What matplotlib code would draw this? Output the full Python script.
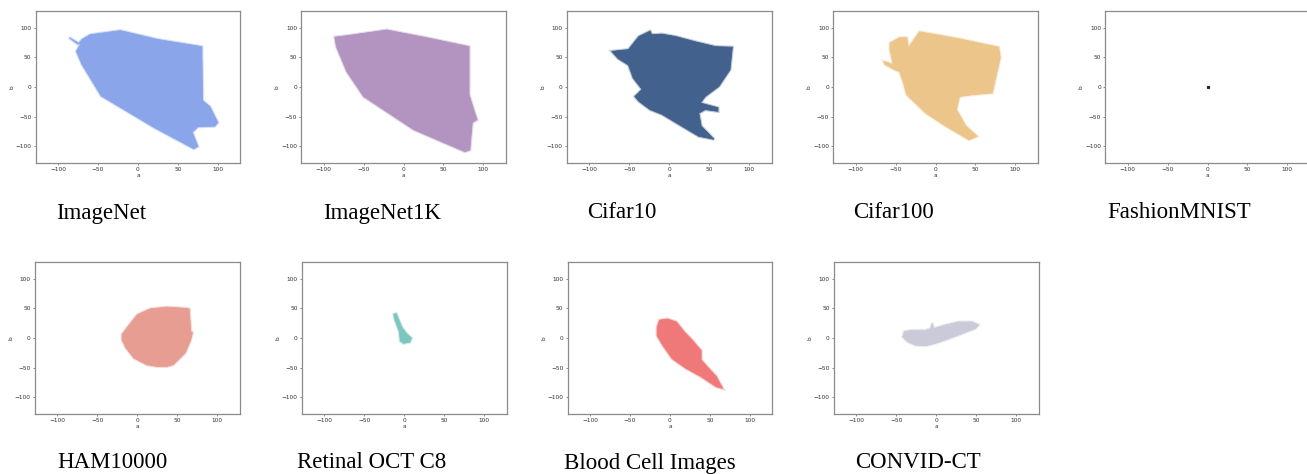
import matplotlib
matplotlib.use("Agg")
import matplotlib.pyplot as plt

# ---- data: outlines of the a/b point clouds (Lab colour space) ----
titles = ["ImageNet", "ImageNet1K", "Cifar10", "Cifar100", "FashionMNIST",
          "HAM10000", "Retinal OCT C8", "Blood Cell Images", "CONVID-CT"]

imagenet_a = [-86, -75, -70, -60, -22, 25, 80, 81, 90, 100, 96, 75, 68, 75, 70, 20, -46, -70, -77, -72]
imagenet_b = [83, 72, 80, 88, 95, 80, 68, -23, -33, -60, -66, -67, -76, -100, -104, -68, -15, 38, 60, 72]

imagenet1k_a = [-86, -73, -21, 29, 82, 82, 88, 92, 86, 83, 77, 13, -50, -71, -84]
imagenet1k_b = [84, 86, 96, 83, 68, -13, -39, -55, -60, -106, -109, -72, -16, 26, 68]

cifar10_a = [-72, -51, -38, -24, -22, -9, 8, 33, 58, 79, 76, 62, 45, 39, 61, 61, 45, 37, 40, 56,
             37, 12, -9, -24, -38, -43, -34, -45, -51, -64]
cifar10_b = [60, 63, 85, 94, 88, 89, 85, 76, 68, 67, 29, 1, -16, -27, -35, -41, -38, -44, -66, -88,
             -83, -63, -46, -38, -24, -16, -4, 15, 37, 48]

cifar100_a = [-57, -45, -36, -34, -20, 30, 79, 81, 77, 71, 46, 30, 26, 38, 52, 42, 13, -12, -36,
              -40, -45, -51, -63, -65, -53, -57]
cifar100_b = [74, 83, 83, 66, 93, 81, 67, 49, 26, -10, -13, -16, -38, -66, -83, -89, -66, -44, -13,
              7, 26, 29, 38, 43, 38, 63]

fashion_a = [0]
fashion_b = [0]

ham_a = [-19, -10, 0, 16, 37, 60, 65, 67, 69, 67, 60, 45, 37, 25, 12, -4, -14, -19]
ham_b = [6, 22, 39, 49, 52, 50, 49, 11, 9, -3, -25, -45, -48, -48, -45, -34, -17, -3]

retinal_a = [-13, -10, -3, 3, 9, 7, -1, -5, -6, -12]
retinal_b = [40, 41, 18, 7, 0, -7, -9, -5, 10, 32]

blood_a = [-16, -13, -3, 8, 18, 26, 35, 39, 39, 47, 58, 66, 58, 39, 20, 3, -9, -16]
blood_b = [18, 30, 32, 27, 10, -1, -15, -21, -37, -49, -65, -85, -82, -65, -51, -35, -12, 4]

covid_a = [-40, -30, -13, -7, -5, -3, 12, 28, 45, 53, 49, 28, 12, -1, -13, -26, -36, -42]
covid_b = [11, 13, 13, 16, 25, 16, 22, 27, 27, 22, 16, 5, -3, -9, -13, -12, -6, 2]

outlines_a = [imagenet_a, imagenet1k_a, cifar10_a, cifar100_a, fashion_a,
              ham_a, retinal_a, blood_a, covid_a]
outlines_b = [imagenet_b, imagenet1k_b, cifar10_b, cifar100_b, fashion_b,
              ham_b, retinal_b, blood_b, covid_b]

colors = ["#8aa5e9", "#b394c0", "#42618c", "#ecc58b", "#222222",
          "#e89d93", "#7cc6c0", "#ef7878", "#cacad9"]

ticks = [-100, -50, 0, 50, 100]
lim = (-128, 128)

# ---- layout ----
W, H = 1307, 474
fig = plt.figure(figsize=(W / 100, H / 100), dpi=100)

lefts_row1 = [35.7, 301.3, 567, 833.3, 1105.3]
lefts_row2 = [35.0, 302.0, 567.7, 834.0]
ax_w = 204.5
row1 = (11, 163)
row2 = (262, 414)
title_x = [101, 382, 622, 894, 1179, 112, 372, 650, 918]
title_y = [213, 213, 213, 213, 213, 463, 463, 463, 463]

boxes = [(l, row1) for l in lefts_row1] + [(l, row2) for l in lefts_row2]

for i, ((l, (top, bot)), t) in enumerate(zip(boxes, titles)):
    ax = fig.add_axes([l / W, 1 - bot / H, ax_w / W, (bot - top) / H])
    a, b = outlines_a[i], outlines_b[i]
    if len(a) > 2:
        # soft, scattered-looking rim then the dense core
        ax.fill(a, b, color=colors[i], lw=2.2, ec=colors[i], alpha=0.35)
        ax.fill(a, b, color=colors[i], lw=0.6, ec=colors[i], alpha=1)
    else:
        ax.plot(a, b, marker="s", ms=1.3, color=colors[i], ls="none")
    ax.set_xlim(*lim)
    ax.set_ylim(*lim)
    ax.set_xticks(ticks)
    ax.set_yticks(ticks)
    ax.tick_params(labelsize=4.2, length=1.5, width=0.4, pad=1.5, colors="#333333")
    ax.set_xlabel("a", fontsize=4.2, labelpad=0.5, color="#333333")
    ax.set_ylabel("b", fontsize=4.2, labelpad=1, color="#333333")
    for s in ax.spines.values():
        s.set_color("#8a8a8a")
        s.set_linewidth(0.9)
    fig.text(title_x[i] / W, 1 - title_y[i] / H, t, ha="center", va="center",
             fontsize=16.5, family="Liberation Serif")

fig.savefig("out.png", dpi=100)
